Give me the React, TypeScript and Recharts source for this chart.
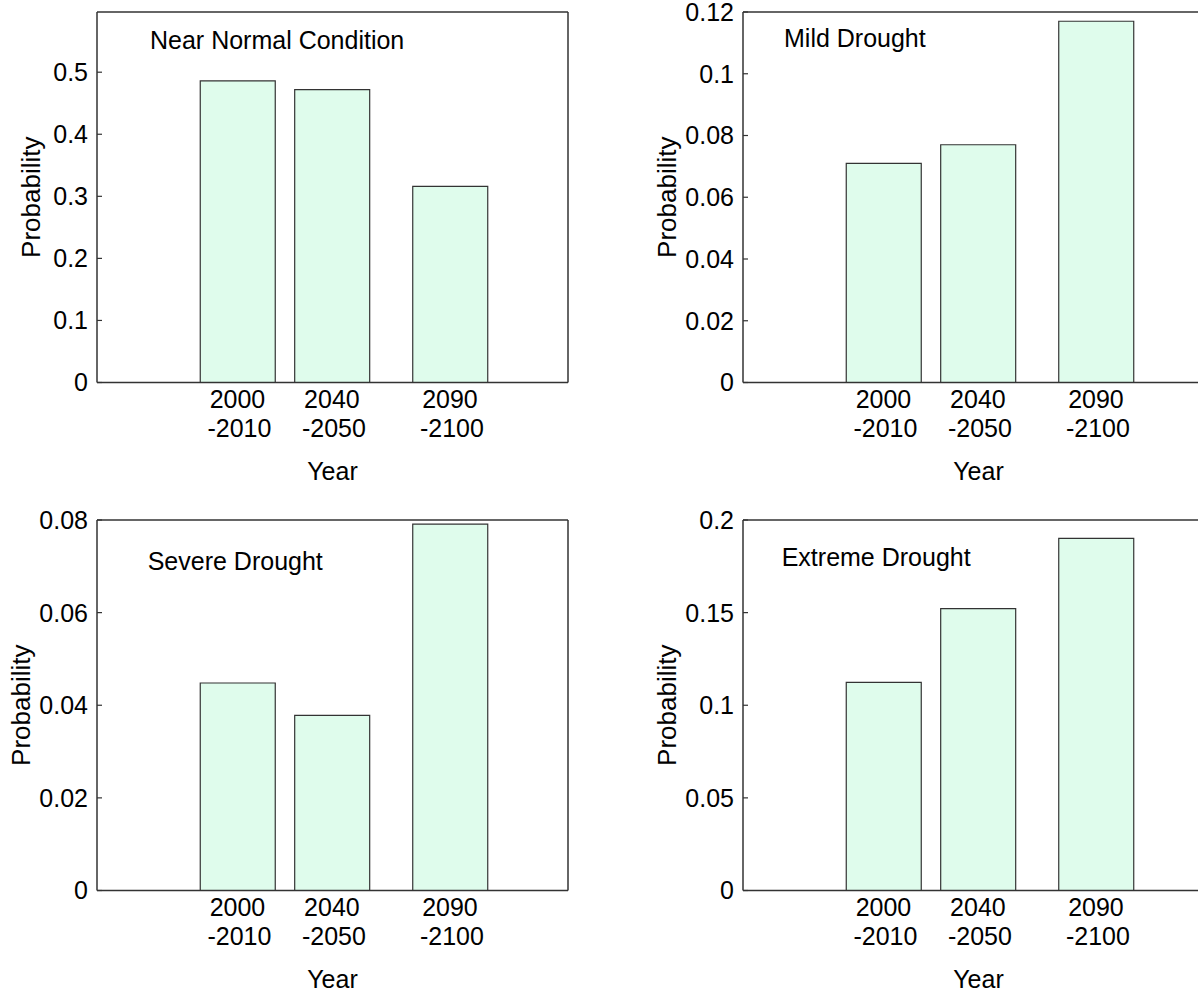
import React from 'react';
import { BarChart, Bar, XAxis, YAxis } from 'recharts';

// ---- data ----
const periodMid = [2005, 2045, 2095];
const tickLine1 = ['2000', '2040', '2090'];
const tickLine2 = ['-2010', '-2050', '-2100'];

const nearNormal = [0.486, 0.472, 0.316];
const mildDrought = [0.071, 0.077, 0.117];
const severeDrought = [0.0448, 0.0378, 0.0791];
const extremeDrought = [0.1124, 0.1522, 0.1901];

const nearNormalTicks = [0, 0.1, 0.2, 0.3, 0.4, 0.5];
const mildTicks = [0, 0.02, 0.04, 0.06, 0.08, 0.1, 0.12];
const severeTicks = [0, 0.02, 0.04, 0.06, 0.08];
const extremeTicks = [0, 0.05, 0.1, 0.15, 0.2];

// ---- styles ----
const FONT = '"Liberation Sans", Arial, Helvetica, sans-serif';
const AXIS = '#333';
const BAR_FILL = '#DFFCEC';
const BAR_STROKE = '#333';
const X_DOMAIN: [number, number] = [1945.5, 2145];
const FS = 25;

function XTick(props: any) {
  const { x, y, payload } = props;
  const i = periodMid.indexOf(payload.value);
  return (
    <g>
      <text x={x} y={y + 25.5} textAnchor="middle" fontSize={FS} fontFamily={FONT} fill="#000">
        {tickLine1[i]}
      </text>
      <text x={x + 2} y={y + 54.5} textAnchor="middle" fontSize={FS} fontFamily={FONT} fill="#000">
        {tickLine2[i]}
      </text>
    </g>
  );
}

function XLabel(props: any) {
  const vb = props.viewBox || {};
  return (
    <text x={vb.x + vb.width / 2} y={vb.y + 97.5} textAnchor="middle" fontSize={FS} fontFamily={FONT} fill="#000">
      Year
    </text>
  );
}

function YLabel(props: any) {
  const vb = props.viewBox || {};
  const cx = vb.x + vb.width - props.gap;
  const cy = vb.y + vb.height / 2;
  return (
    <text
      x={cx}
      y={cy}
      transform={`rotate(-90 ${cx} ${cy})`}
      textAnchor="middle"
      fontSize={26}
      fontFamily={FONT}
      fill="#000"
    >
      Probability
    </text>
  );
}

type PanelProps = {
  title: string;
  values: number[];
  yDomain: [number, number];
  yTicks: number[];
  plotLeft: number;
  plotTop: number;
  titleLeft: number;
  titleTop: number;
  yLabelGap: number;
};

function Panel(p: PanelProps) {
  const data = periodMid.map((x, i) => ({ x, value: p.values[i] }));
  return (
    <>
      <div style={{ position: 'absolute', left: p.plotLeft - 100, top: p.plotTop - 20 }}>
        <BarChart width={591} height={500.5} data={data} margin={{ top: 0, right: 10, bottom: 0, left: 0 }}>
          <XAxis
            xAxisId="bottom"
            dataKey="x"
            type="number"
            domain={X_DOMAIN}
            ticks={periodMid}
            allowDataOverflow
            interval={0}
            tickLine={false}
            tickSize={0}
            tickMargin={0}
            tick={<XTick />}
            height={110}
            axisLine={{ stroke: AXIS, strokeWidth: 1.5 }}
            label={<XLabel />}
          />
          <XAxis
            xAxisId="top"
            orientation="top"
            type="number"
            domain={X_DOMAIN}
            ticks={periodMid}
            allowDataOverflow
            interval={0}
            tick={false}
            tickSize={-5}
            tickLine={{ stroke: AXIS, strokeWidth: 1.2 }}
            height={20}
            axisLine={{ stroke: AXIS, strokeWidth: 1.5 }}
          />
          <YAxis
            yAxisId="left"
            type="number"
            width={100}
            domain={p.yDomain}
            ticks={p.yTicks}
            allowDataOverflow
            interval={0}
            tickSize={-5}
            tickMargin={14}
            tick={{ fontSize: FS, fontFamily: FONT, fill: '#000' }}
            tickLine={{ stroke: AXIS, strokeWidth: 1.2 }}
            axisLine={{ stroke: AXIS, strokeWidth: 1.5 }}
            label={<YLabel gap={p.yLabelGap} />}
          />
          <YAxis
            yAxisId="right"
            orientation="right"
            type="number"
            width={10}
            domain={p.yDomain}
            ticks={p.yTicks}
            allowDataOverflow
            interval={0}
            tick={false}
            tickSize={-5}
            tickLine={{ stroke: AXIS, strokeWidth: 1.2 }}
            axisLine={{ stroke: AXIS, strokeWidth: 1.5 }}
          />
          <Bar
            xAxisId="bottom"
            yAxisId="left"
            dataKey="value"
            barSize={75}
            fill={BAR_FILL}
            stroke={BAR_STROKE}
            strokeWidth={1.2}
            isAnimationActive={false}
          />
        </BarChart>
      </div>
      <div
        style={{
          position: 'absolute',
          left: p.titleLeft,
          top: p.titleTop,
          fontSize: FS,
          lineHeight: `${FS}px`,
          fontFamily: FONT,
          color: '#000',
          whiteSpace: 'nowrap',
        }}
      >
        {p.title}
      </div>
    </>
  );
}

export default function App() {
  return (
    <div
      style={{
        position: 'absolute',
        left: 0,
        top: 0,
        width: 1198,
        height: 993,
        overflow: 'hidden',
        background: '#fff',
        fontFamily: FONT,
      }}
    >
      <Panel
        title="Near Normal Condition"
        values={nearNormal}
        yDomain={[0, 0.597]}
        yTicks={nearNormalTicks}
        plotLeft={97}
        plotTop={12.3}
        titleLeft={150}
        titleTop={27.8}
        yLabelGap={57}
      />
      <Panel
        title="Mild Drought"
        values={mildDrought}
        yDomain={[0, 0.12]}
        yTicks={mildTicks}
        plotLeft={743}
        plotTop={12.3}
        titleLeft={784}
        titleTop={26.1}
        yLabelGap={67}
      />
      <Panel
        title="Severe Drought"
        values={severeDrought}
        yDomain={[0, 0.08]}
        yTicks={severeTicks}
        plotLeft={97}
        plotTop={520}
        titleLeft={147.7}
        titleTop={549.1}
        yLabelGap={67}
      />
      <Panel
        title="Extreme Drought"
        values={extremeDrought}
        yDomain={[0, 0.2]}
        yTicks={extremeTicks}
        plotLeft={743}
        plotTop={520}
        titleLeft={781.7}
        titleTop={544.5}
        yLabelGap={67}
      />
    </div>
  );
}
